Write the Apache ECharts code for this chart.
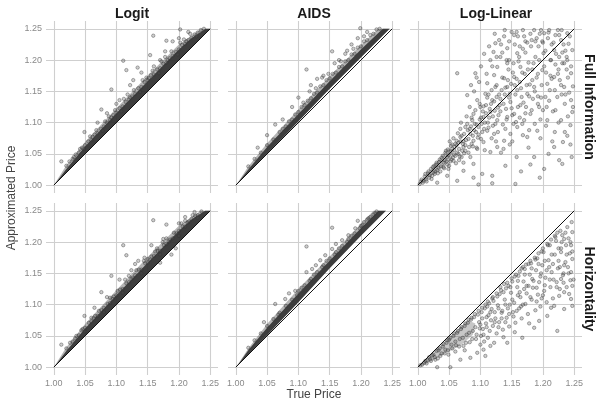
<!DOCTYPE html>
<html><head><meta charset="utf-8">
<script src="https://cdn.jsdelivr.net/npm/echarts@6/dist/echarts.min.js"></script>
<style>html,body{margin:0;padding:0;background:#fff}#c{width:597px;height:402px}</style>
</head><body><div id="c"></div>
<script>
const methods = ['Logit', 'AIDS', 'Log-Linear'];
const scenarios = ['Full Information', 'Horizontality'];
const xTitle = 'True Price';
const yTitle = 'Approximated Price';
const diagonal = [[1.00, 1.00], [1.25, 1.25]];

// dense cores (polygons)
const logitFullBand = [[1.000,1.000],[1.250,1.250],[1.243,1.250],[1.220,1.235],[1.200,1.217],[1.150,1.166],[1.100,1.115],[1.050,1.062],[1.020,1.026],[1.005,1.006]];
const logitFullHalo = [[1.000,1.000],[1.250,1.250],[1.236,1.250],[1.200,1.225],[1.150,1.175],[1.100,1.123],[1.050,1.069],[1.020,1.032],[1.005,1.008]];
const aidsFullBand = [[1.000,1.000],[1.080,1.081],[1.150,1.154],[1.200,1.204],[1.246,1.250],[1.235,1.250],[1.200,1.217],[1.150,1.166],[1.100,1.114],[1.050,1.061],[1.020,1.025],[1.005,1.006]];
const aidsFullHalo = [[1.000,1.000],[1.080,1.081],[1.150,1.154],[1.200,1.204],[1.246,1.250],[1.228,1.250],[1.200,1.224],[1.150,1.174],[1.100,1.121],[1.050,1.067],[1.020,1.030],[1.005,1.007]];
const logLinFullCore = [[1.000,1.000],[1.030,1.037],[1.048,1.058],[1.058,1.058],[1.055,1.044],[1.045,1.033],[1.025,1.018],[1.008,1.005]];
const logitHorizBand = [[1.000,1.000],[1.250,1.250],[1.242,1.250],[1.220,1.236],[1.200,1.218],[1.150,1.167],[1.100,1.115],[1.050,1.062],[1.020,1.026],[1.005,1.006]];
const logitHorizHalo = [[1.000,1.000],[1.250,1.250],[1.235,1.250],[1.200,1.226],[1.150,1.176],[1.100,1.123],[1.050,1.069],[1.020,1.032],[1.005,1.008]];
const aidsHorizBand = [[1.000,1.000],[1.050,1.051],[1.100,1.104],[1.150,1.158],[1.200,1.210],[1.240,1.250],[1.228,1.250],[1.200,1.222],[1.150,1.170],[1.100,1.118],[1.050,1.063],[1.020,1.027],[1.005,1.006]];
const aidsHorizHalo = [[1.000,1.000],[1.050,1.051],[1.100,1.104],[1.150,1.158],[1.200,1.210],[1.240,1.250],[1.220,1.250],[1.200,1.229],[1.150,1.177],[1.100,1.125],[1.050,1.069],[1.020,1.030],[1.005,1.007]];
const logLinHorizCore = [[1.000,1.000],[1.050,1.048],[1.080,1.075],[1.092,1.070],[1.088,1.052],[1.070,1.036],[1.040,1.020],[1.015,1.006]];

const logitFullPts = [[1.02,1.031],[1.025,1.038],[1.03,1.042],[1.035,1.049],[1.04,1.052],[1.045,1.06],[1.05,1.064],[1.055,1.07],[1.06,1.072],[1.065,1.081],[1.07,1.083],[1.075,1.09],[1.08,1.094],[1.085,1.10],[1.09,1.104],[1.095,1.112],[1.10,1.116],[1.105,1.123],[1.11,1.126],[1.115,1.133],[1.12,1.137],[1.125,1.142],[1.13,1.146],[1.135,1.155],[1.14,1.157],[1.145,1.165],[1.15,1.168],[1.155,1.176],[1.16,1.177],[1.165,1.185],[1.17,1.187],[1.175,1.194],[1.18,1.196],[1.185,1.203],[1.19,1.207],[1.195,1.213],[1.20,1.217],[1.205,1.224],[1.21,1.226],[1.215,1.232],[1.22,1.236],[1.225,1.241],[1.23,1.244],[1.235,1.248],
[1.032,1.045],[1.048,1.058],[1.062,1.077],[1.078,1.087],[1.092,1.108],[1.108,1.118],[1.122,1.14],[1.138,1.149],[1.152,1.171],[1.168,1.179],[1.182,1.2],[1.198,1.209],[1.212,1.23],[1.228,1.238],[1.24,1.25],[1.058,1.078],[1.088,1.11],[1.118,1.145],[1.148,1.172],[1.178,1.205],[1.208,1.233],
[1.012,1.038],[1.049,1.085],[1.076,1.121],[1.092,1.153],[1.105,1.136],[1.111,1.199],[1.116,1.184],[1.122,1.160],[1.127,1.168],[1.134,1.188],[1.154,1.208],[1.159,1.239],[1.178,1.214],[1.18,1.231],[1.202,1.249],[1.07,1.10],[1.14,1.18],[1.17,1.20],[1.19,1.23],[1.215,1.245],[1.16,1.19],[1.10,1.13],[1.085,1.115],[1.2,1.235],
[1.042,1.058],[1.068,1.088],[1.098,1.12],[1.128,1.152],[1.158,1.183],[1.188,1.214],[1.218,1.242],[1.112,1.138],[1.142,1.168],[1.172,1.198],[1.202,1.228],[1.082,1.102]];

const aidsFullPts = [[1.02,1.03],[1.03,1.042],[1.04,1.052],[1.05,1.064],[1.06,1.073],[1.063,1.097],[1.07,1.085],[1.075,1.09],[1.08,1.094],[1.085,1.102],[1.09,1.105],[1.095,1.113],[1.10,1.117],[1.105,1.125],[1.11,1.128],[1.113,1.185],[1.115,1.135],[1.12,1.139],[1.125,1.146],[1.13,1.148],[1.135,1.158],[1.14,1.16],[1.145,1.168],[1.15,1.171],[1.154,1.214],[1.155,1.178],[1.16,1.18],[1.165,1.189],[1.17,1.19],[1.175,1.198],[1.18,1.2],[1.185,1.209],[1.19,1.21],[1.195,1.22],[1.199,1.251],[1.2,1.222],[1.205,1.23],[1.21,1.232],[1.215,1.24],[1.22,1.242],[1.225,1.249],[1.23,1.25],
[1.09,1.125],[1.12,1.16],[1.14,1.175],[1.165,1.2],[1.185,1.225],[1.21,1.245],[1.075,1.105],[1.1,1.14],[1.13,1.17],[1.175,1.21],[1.195,1.235],[1.05,1.08],[1.035,1.06],
[1.108,1.132],[1.118,1.15],[1.128,1.155],[1.138,1.172],[1.148,1.178],[1.158,1.195],[1.168,1.198],[1.178,1.215],[1.188,1.218],[1.205,1.238]];

const logLinFullPts = [[1.097,1.001],[1.119,1.003],[1.156,1.002],
[1.202,1.026],[1.231,1.034],[1.186,1.045],[1.14,1.031],[1.119,1.015],[1.103,1.018],[1.089,1.012],[1.073,1.023],[1.063,1.007],[1.047,1.015],[1.031,1.004],
[1.218,1.061],[1.239,1.079],[1.207,1.104],[1.229,1.104],[1.247,1.117],[1.245,1.136],[1.234,1.157],[1.245,1.179],[1.239,1.2],[1.247,1.216],[1.218,1.173],[1.223,1.141],[1.194,1.125],[1.18,1.114],[1.17,1.104],[1.159,1.093],[1.148,1.082],[1.138,1.071],[1.127,1.061],[1.116,1.053],[1.191,1.087],[1.175,1.077],[1.204,1.141],[1.186,1.157],[1.199,1.184],[1.213,1.2],[1.229,1.232],[1.202,1.243],[1.186,1.248],[1.17,1.238],[1.154,1.24],[1.138,1.238],[1.124,1.227],[1.143,1.219],[1.159,1.211],[1.132,1.205],[1.116,1.2],[1.127,1.189],[1.143,1.195],[1.164,1.189],[1.154,1.173],[1.138,1.171],[1.122,1.176],[1.111,1.163],[1.124,1.157],[1.143,1.157],[1.159,1.152],[1.108,1.146],[1.119,1.136],[1.132,1.138],[1.148,1.133],[1.164,1.128],[1.175,1.146],[1.095,1.136],[1.092,1.179],[1.063,1.179],[1.079,1.144],[1.1,1.125],[1.089,1.114],[1.105,1.109],[1.116,1.117],[1.127,1.104],[1.143,1.109],[1.154,1.114],[1.087,1.104],[1.076,1.093],[1.097,1.093],[1.111,1.087],[1.122,1.082],[1.084,1.082],[1.068,1.077],[1.089,1.071],[1.105,1.069],[1.06,1.066],[1.073,1.061],[1.095,1.058],[1.052,1.053],[1.065,1.05],[1.084,1.045],[1.047,1.045],[1.057,1.039],[1.041,1.036],[1.073,1.036],[1.033,1.028],[1.049,1.026],[1.025,1.02],[1.089,1.034],
[1.239,1.243],[1.218,1.216],[1.234,1.195],[1.226,1.205],
[1.055,1.058],[1.058,1.049],[1.062,1.071],[1.066,1.058],[1.07,1.079],[1.072,1.066],[1.077,1.072],[1.08,1.088],[1.082,1.061],[1.085,1.094],[1.088,1.079],[1.091,1.098],[1.093,1.085],[1.096,1.076],[1.099,1.105],[1.102,1.098],[1.104,1.118],[1.106,1.09],[1.109,1.128],[1.112,1.1],[1.114,1.108],[1.117,1.13],[1.12,1.095],[1.123,1.119],[1.126,1.141],[1.129,1.112],[1.131,1.128],[1.134,1.152],[1.136,1.097],[1.139,1.145],[1.141,1.122],[1.144,1.168],[1.147,1.146],[1.15,1.123],[1.152,1.18],[1.155,1.16],[1.157,1.101],[1.161,1.198],[1.163,1.165],[1.166,1.141],[1.168,1.218],[1.171,1.178],[1.173,1.125],[1.177,1.196],[1.179,1.161],[1.182,1.232],[1.184,1.138],[1.188,1.205],[1.19,1.172],[1.193,1.222],[1.196,1.105],[1.198,1.16],[1.201,1.211],[1.205,1.18],[1.208,1.235],[1.211,1.152],[1.214,1.225],[1.216,1.118],[1.22,1.193],[1.224,1.248],[1.227,1.168],[1.231,1.212],[1.235,1.13],[1.238,1.185],[1.241,1.226],[1.244,1.096],[1.248,1.158],
[1.005,1.006],[1.008,1.004],[1.011,1.014],[1.013,1.009],[1.016,1.019],[1.018,1.012],[1.021,1.026],[1.023,1.015],[1.026,1.031],[1.028,1.022],[1.03,1.036],[1.032,1.019],[1.035,1.041],[1.037,1.03],[1.04,1.047],[1.042,1.027],[1.044,1.052],[1.046,1.038],[1.048,1.057],[1.05,1.031],[1.053,1.063],[1.056,1.044],[1.059,1.061],[1.061,1.035],[1.064,1.083],[1.067,1.046],[1.069,1.1],[1.074,1.051],[1.078,1.11],[1.081,1.052],[1.083,1.125],[1.086,1.066],[1.09,1.15],[1.094,1.06],[1.098,1.165],[1.101,1.074],[1.107,1.056],[1.113,1.145],[1.118,1.075],[1.121,1.213],[1.128,1.085],[1.133,1.225],[1.137,1.058],[1.146,1.2],[1.151,1.07],[1.158,1.245],[1.167,1.098],[1.172,1.23],[1.178,1.088],[1.183,1.185],[1.192,1.142],[1.197,1.248],[1.206,1.125],[1.212,1.175],[1.219,1.085],[1.225,1.185],[1.232,1.069],[1.236,1.215],[1.242,1.148],[1.246,1.045],
[1.051,1.07],[1.054,1.041],[1.057,1.075],[1.063,1.052],[1.065,1.068],[1.068,1.09],[1.071,1.055],[1.074,1.082],[1.076,1.064],[1.079,1.098],[1.081,1.074],[1.083,1.09],[1.086,1.108],[1.088,1.062],[1.09,1.088],[1.092,1.12],[1.094,1.097],[1.097,1.081],[1.099,1.13],[1.101,1.108],[1.103,1.085],[1.105,1.126],[1.107,1.1],[1.109,1.115],[1.111,1.14],[1.113,1.092],[1.115,1.122],[1.118,1.152],[1.12,1.11],[1.122,1.134],[1.124,1.098],[1.126,1.16],[1.128,1.124],[1.13,1.145],[1.132,1.118],[1.135,1.172],[1.137,1.13],[1.14,1.156],[1.142,1.105],[1.145,1.185],[1.146,1.14],[1.149,1.162],[1.151,1.112],[1.153,1.195],[1.156,1.145],[1.158,1.17],[1.16,1.125],[1.162,1.205],[1.165,1.155],[1.167,1.18],[1.169,1.132],[1.172,1.212],[1.174,1.16],[1.176,1.185],[1.178,1.142],[1.181,1.222],[1.183,1.168],[1.185,1.195],[1.187,1.15],[1.19,1.235],[1.192,1.178],[1.194,1.2],[1.197,1.14],[1.199,1.23],[1.202,1.19],[1.204,1.215],[1.207,1.162],[1.209,1.244],[1.212,1.2],[1.214,1.17],[1.217,1.228],[1.219,1.152],[1.221,1.21],[1.224,1.178],[1.226,1.24],[1.229,1.16],[1.231,1.195],[1.233,1.225],[1.236,1.145],[1.238,1.205],[1.24,1.172],[1.243,1.238],[1.245,1.19],[1.248,1.125],
[1.085,1.16],[1.094,1.172],[1.101,1.19],[1.106,1.21],[1.11,1.178],[1.114,1.222],[1.119,1.19],[1.123,1.242],[1.126,1.205],[1.13,1.232],[1.135,1.212],[1.139,1.248],[1.142,1.2],[1.146,1.23],[1.15,1.245],[1.155,1.225],[1.16,1.238],[1.163,1.222],[1.168,1.248],[1.175,1.228],[1.18,1.242],[1.188,1.23],[1.195,1.242],[1.2,1.228],[1.21,1.248],[1.22,1.24],[1.23,1.248],
[1.125,1.07],[1.133,1.052],[1.14,1.09],[1.147,1.065],[1.153,1.098],[1.158,1.045],[1.163,1.108],[1.168,1.08],[1.172,1.115],[1.177,1.06],[1.182,1.12],[1.187,1.098],[1.192,1.13],[1.196,1.075],[1.2,1.12],[1.205,1.095],[1.21,1.135],[1.215,1.07],[1.22,1.12],[1.225,1.1],[1.23,1.145],[1.235,1.085],[1.24,1.11],[1.244,1.065],[1.209,1.05],[1.226,1.04],[1.18,1.033],[1.165,1.022],[1.195,1.012],
[1.003,1.002],[1.006,1.009],[1.009,1.007],[1.012,1.018],[1.014,1.006],[1.017,1.022],[1.019,1.016],[1.022,1.01],[1.024,1.029],[1.027,1.018],[1.029,1.033],[1.031,1.024],[1.034,1.037],[1.036,1.022],[1.038,1.044],[1.041,1.029],[1.043,1.04],[1.045,1.055],[1.047,1.033],[1.049,1.048],[1.052,1.038],[1.055,1.065],[1.058,1.056],[1.06,1.047],[1.062,1.064],[1.066,1.04],[1.068,1.07],[1.07,1.045],[1.073,1.07],[1.076,1.055]];

const logitHorizPts = [[1.02,1.03],[1.026,1.039],[1.03,1.041],[1.036,1.05],[1.04,1.051],[1.046,1.061],[1.05,1.063],[1.056,1.071],[1.06,1.073],[1.066,1.082],[1.07,1.082],[1.076,1.091],[1.08,1.095],[1.086,1.101],[1.09,1.103],[1.096,1.113],[1.10,1.115],[1.106,1.124],[1.11,1.125],[1.116,1.134],[1.12,1.136],[1.126,1.143],[1.13,1.147],[1.136,1.156],[1.14,1.156],[1.146,1.166],[1.15,1.167],[1.156,1.177],[1.16,1.178],[1.166,1.186],[1.17,1.186],[1.176,1.195],[1.18,1.197],[1.186,1.204],[1.19,1.206],[1.196,1.214],[1.20,1.218],[1.206,1.225],[1.21,1.225],[1.216,1.233],[1.22,1.237],[1.226,1.242],[1.23,1.243],[1.236,1.249],[1.034,1.046],[1.05,1.057],[1.064,1.078],[1.08,1.088],[1.094,1.109],[1.11,1.119],[1.124,1.141],[1.14,1.15],[1.154,1.172],[1.17,1.18],[1.184,1.201],[1.2,1.21],[1.214,1.231],[1.23,1.239],[1.06,1.079],[1.09,1.111],[1.12,1.146],[1.15,1.173],[1.18,1.206],[1.21,1.234],
[1.012,1.036],[1.049,1.082],[1.076,1.12],[1.092,1.146],[1.111,1.195],[1.116,1.179],[1.156,1.195],[1.159,1.235],[1.18,1.228],[1.2,1.23],[1.165,1.19],[1.135,1.17],[1.105,1.14],[1.21,1.24],[1.225,1.248],[1.13,1.165],[1.065,1.095],[1.175,1.205],[1.145,1.175],[1.188,1.18],[1.195,1.19],[1.17,1.167],[1.085,1.112],[1.124,1.155],
[1.044,1.059],[1.072,1.09],[1.102,1.122],[1.132,1.155],[1.162,1.185],[1.192,1.215],[1.222,1.243],[1.114,1.14],[1.144,1.17],[1.174,1.2],[1.204,1.23]];

const aidsHorizPts = [[1.063,1.101],[1.079,1.109],[1.095,1.122],[1.113,1.152],[1.122,1.157],[1.135,1.171],[1.143,1.179],[1.154,1.189],[1.17,1.203],[1.18,1.211],[1.191,1.222],[1.202,1.227],[1.212,1.238],[1.223,1.246],[1.113,1.193],[1.154,1.223],
[1.02,1.031],[1.03,1.043],[1.04,1.054],[1.05,1.066],[1.06,1.077],[1.07,1.087],[1.08,1.098],[1.09,1.108],[1.10,1.122],[1.105,1.127],[1.11,1.131],[1.12,1.141],[1.125,1.148],[1.13,1.152],[1.14,1.163],[1.145,1.17],[1.15,1.174],[1.16,1.184],[1.165,1.19],[1.17,1.194],[1.18,1.205],[1.185,1.21],[1.19,1.214],[1.2,1.226],[1.205,1.232],[1.21,1.236],[1.215,1.24],[1.22,1.244],[1.225,1.249],[1.085,1.118],[1.128,1.163],[1.16,1.197],[1.195,1.234],[1.045,1.072],
[1.118,1.138],[1.138,1.16],[1.158,1.18],[1.178,1.2],[1.198,1.222],[1.068,1.084],[1.098,1.115]];

const logLinHorizPts = [[1.031,1.0],[1.052,1.0],[1.108,1.018],[1.167,1.047],[1.223,1.058],[1.194,1.074],[1.207,1.082],[1.186,1.063],[1.143,1.039],[1.122,1.039],[1.105,1.028],[1.095,1.023],[1.084,1.015],[1.068,1.012],
[1.247,1.216],[1.245,1.195],[1.247,1.173],[1.245,1.152],[1.247,1.13],[1.245,1.109],[1.247,1.098],[1.234,1.093],[1.218,1.098],[1.234,1.12],[1.229,1.141],[1.234,1.163],[1.229,1.184],[1.234,1.205],[1.239,1.224],[1.223,1.215],
[1.102,1.088],[1.098,1.072],[1.104,1.061],[1.101,1.05],[1.106,1.041],
[1.111,1.097],[1.113,1.083],[1.109,1.07],[1.115,1.058],[1.112,1.047],
[1.121,1.106],[1.118,1.093],[1.124,1.078],[1.12,1.066],[1.126,1.054],
[1.131,1.117],[1.128,1.099],[1.134,1.087],[1.13,1.072],[1.136,1.06],
[1.141,1.126],[1.139,1.108],[1.144,1.094],[1.142,1.079],[1.146,1.065],
[1.151,1.137],[1.149,1.119],[1.154,1.103],[1.152,1.088],[1.156,1.071],
[1.161,1.146],[1.159,1.128],[1.164,1.112],[1.162,1.094],[1.166,1.078],
[1.171,1.157],[1.169,1.137],[1.174,1.118],[1.172,1.101],[1.176,1.085],
[1.181,1.166],[1.179,1.148],[1.184,1.127],[1.182,1.108],[1.188,1.091],
[1.191,1.174],[1.189,1.155],[1.194,1.136],[1.192,1.116],[1.196,1.097],
[1.201,1.184],[1.199,1.163],[1.204,1.143],[1.202,1.122],[1.206,1.104],
[1.211,1.195],[1.209,1.171],[1.214,1.152],[1.212,1.128],[1.216,1.11],
[1.221,1.202],[1.219,1.18],[1.224,1.158],[1.222,1.136],[1.226,1.114],
[1.231,1.211],[1.229,1.19],[1.236,1.168],[1.232,1.147],[1.238,1.128],
[1.241,1.206],[1.243,1.182],[1.24,1.16],[1.244,1.139],[1.242,1.117],
[1.05,1.044],[1.054,1.036],[1.057,1.05],[1.06,1.041],[1.063,1.055],[1.066,1.033],[1.069,1.061],[1.072,1.047],[1.075,1.066],[1.077,1.039],[1.08,1.071],[1.082,1.055],[1.085,1.076],[1.087,1.045],[1.09,1.08],[1.092,1.064],[1.094,1.052],[1.096,1.084],[1.099,1.062],[1.103,1.078],[1.107,1.094],[1.11,1.064],[1.114,1.102],[1.117,1.075],[1.119,1.11],[1.123,1.088],[1.127,1.113],[1.129,1.064],[1.133,1.123],[1.135,1.09],[1.138,1.133],[1.14,1.072],[1.145,1.13],[1.147,1.1],[1.15,1.142],[1.153,1.081],[1.157,1.148],[1.16,1.115],[1.163,1.153],[1.165,1.097],[1.168,1.16],[1.17,1.125],[1.173,1.164],[1.177,1.13],[1.18,1.17],[1.183,1.141],[1.187,1.175],[1.19,1.127],[1.193,1.182],[1.197,1.15],[1.2,1.19],[1.203,1.131],[1.207,1.197],[1.21,1.16],[1.213,1.204],[1.217,1.14],[1.22,1.208],[1.225,1.17],[1.228,1.218],[1.233,1.15],[1.237,1.195],[1.246,1.232],[1.227,1.125],[1.213,1.095],[1.198,1.11],[1.178,1.07],[1.155,1.056],[1.137,1.048],[1.116,1.034],[1.1,1.036],[1.075,1.027],[1.06,1.025],
[1.01,1.007],[1.015,1.011],[1.02,1.013],[1.025,1.02],[1.028,1.012],[1.033,1.027],[1.036,1.018],[1.04,1.033],[1.043,1.022],[1.046,1.039],[1.048,1.027],
[1.004,1.003],[1.007,1.004],[1.012,1.01],[1.014,1.006],[1.018,1.016],[1.021,1.01],[1.023,1.019],[1.027,1.016],[1.03,1.026],[1.032,1.014],[1.035,1.03],[1.038,1.022],[1.041,1.037],[1.044,1.028],[1.047,1.043],[1.049,1.02],[1.052,1.047],[1.055,1.03],[1.058,1.054],[1.061,1.035],[1.064,1.058],[1.067,1.045],[1.07,1.064],[1.073,1.034],[1.076,1.07],[1.078,1.052],[1.081,1.076],[1.083,1.04],[1.086,1.079],[1.088,1.058],[1.091,1.085],[1.093,1.045],[1.097,1.09],[1.1,1.068],[1.103,1.095],[1.105,1.052],[1.108,1.1],[1.11,1.08],
[1.112,1.105],[1.116,1.088],[1.12,1.112],[1.123,1.072],[1.126,1.118],[1.129,1.094],[1.132,1.128],[1.134,1.078],[1.137,1.12],[1.14,1.1],[1.143,1.135],[1.146,1.085],[1.148,1.128],[1.151,1.108],[1.155,1.145],[1.158,1.09],[1.16,1.138],[1.163,1.12],[1.166,1.158],[1.168,1.1],[1.171,1.148],[1.174,1.13],[1.177,1.165],[1.18,1.112],[1.182,1.158],[1.185,1.138],[1.188,1.172],[1.19,1.105],[1.193,1.165],[1.196,1.145],[1.198,1.185],[1.2,1.115],[1.203,1.17],[1.206,1.155],[1.208,1.195],[1.211,1.14],[1.214,1.18],[1.216,1.165],[1.219,1.21],[1.222,1.128],[1.225,1.19],[1.227,1.16],[1.23,1.2],[1.233,1.135],[1.236,1.215],[1.238,1.18],[1.241,1.15],[1.244,1.2],[1.247,1.185],[1.249,1.14]];

const panelPoints = [logitFullPts, aidsFullPts, logLinFullPts, logitHorizPts, aidsHorizPts, logLinHorizPts];
const panelHalos = [logitFullHalo, aidsFullHalo, null, logitHorizHalo, aidsHorizHalo, null];
const panelBands = [logitFullBand, aidsFullBand, logLinFullCore, logitHorizBand, aidsHorizBand, logLinHorizCore];

const FONT = "'Liberation Sans', Arial, sans-serif";
const colLeft = [46, 228, 410], rowTop = [21, 203], PW = 172, PH = 172;
const grids = [], xAxes = [], yAxes = [], series = [];
function polySeries(i, poly, fill, z) {
  return {
    type: 'custom', xAxisIndex: i, yAxisIndex: i, silent: true, z: z, data: [[1, 1]],
    renderItem: (params, api) => ({type: 'polygon', shape: {points: poly.map(p => api.coord(p))}, style: {fill: fill}})
  };
}
for (let r = 0; r < 2; r++) {
  for (let c = 0; c < 3; c++) {
    const i = r * 3 + c;
    grids.push({left: colLeft[c], top: rowTop[r], width: PW, height: PH, containLabel: false, outerBoundsMode: 'none'});
    const common = {
      type: 'value', gridIndex: i, min: 0.9875, max: 1.2625, splitNumber: 5,
      axisLine: {show: false}, axisTick: {show: false},
      splitLine: {show: true, showMinLine: false, showMaxLine: false, lineStyle: {color: '#cfcfcf', width: 1.1}},
      axisLabel: {fontFamily: FONT, fontSize: 9, color: '#8a8a8a', showMinLabel: false, showMaxLabel: false,
                  formatter: v => v.toFixed(2)}
    };
    xAxes.push(Object.assign({}, common, {axisLabel: Object.assign({}, common.axisLabel, {show: r === 1, margin: 4})}));
    yAxes.push(Object.assign({}, common, {axisLabel: Object.assign({}, common.axisLabel, {show: c === 0, margin: 4})}));
    if (panelHalos[i]) series.push(polySeries(i, panelHalos[i], 'rgba(90,90,90,0.45)', 1));
    series.push(polySeries(i, panelBands[i], c === 2 ? 'rgba(70,70,70,0.3)' : 'rgba(45,45,45,0.88)', 2));
    series.push({
      type: 'scatter', xAxisIndex: i, yAxisIndex: i, data: panelPoints[i], symbolSize: 3.4, z: 3, silent: true,
      itemStyle: {color: 'rgba(80,80,80,0.35)', borderColor: 'rgba(50,50,50,0.7)', borderWidth: 0.7}
    });
    series.push({
      type: 'line', xAxisIndex: i, yAxisIndex: i, data: diagonal, symbol: 'none', z: 4, silent: true,
      lineStyle: {color: '#111', width: 1}
    });
  }
}
const graphic = [];
methods.forEach((m, c) => graphic.push({type: 'text', x: colLeft[c] + PW / 2, y: 14,
  style: {text: m, fontFamily: FONT, fontSize: 14, fontWeight: 'bold', fill: '#1a1a1a', textAlign: 'center', textVerticalAlign: 'middle'}}));
scenarios.forEach((s, r) => graphic.push({type: 'text', x: 589, y: rowTop[r] + PH / 2, rotation: -Math.PI / 2,
  style: {text: s, fontFamily: FONT, fontSize: 14, fontWeight: 'bold', fill: '#1a1a1a', textAlign: 'center', textVerticalAlign: 'middle'}}));
graphic.push({type: 'text', x: colLeft[1] + PW / 2, y: 395,
  style: {text: xTitle, fontFamily: FONT, fontSize: 12, fill: '#444', textAlign: 'center', textVerticalAlign: 'middle'}});
graphic.push({type: 'text', x: 12, y: 198, rotation: Math.PI / 2,
  style: {text: yTitle, fontFamily: FONT, fontSize: 12, fill: '#444', textAlign: 'center', textVerticalAlign: 'middle'}});

const chart = echarts.init(document.getElementById('c'), null, {renderer: 'canvas'});
chart.setOption({animation: false, backgroundColor: '#fff', grid: grids, xAxis: xAxes, yAxis: yAxes, series, graphic});
</script></body></html>
